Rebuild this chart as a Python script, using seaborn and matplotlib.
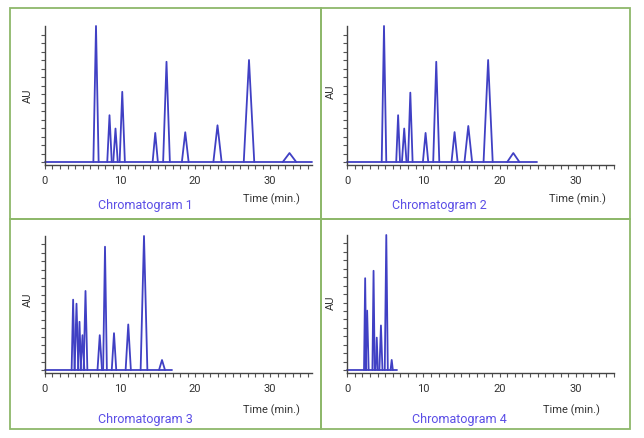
"""Four HPLC chromatograms in a 2x2 grid, boxed panels, no y values."""

import matplotlib

matplotlib.use("Agg")
import matplotlib.pyplot as plt
import numpy as np
import pandas as pd
import seaborn as sns
from matplotlib.patches import Rectangle
from matplotlib.ticker import MultipleLocator

# peak retention time (min), relative height, half base width (min)
c1_times = [6.8, 8.6, 9.4, 10.3, 14.7, 16.2, 18.7, 23.0, 27.2, 32.6]
c1_heights = [1.0, 0.344, 0.246, 0.516, 0.214, 0.737, 0.219, 0.27, 0.75, 0.066]
c1_widths = [0.35, 0.3, 0.3, 0.35, 0.35, 0.45, 0.45, 0.55, 0.7, 0.9]
c1_end = 35.6

c2_times = [4.85, 6.7, 7.5, 8.3, 10.3, 11.7, 14.1, 15.9, 18.5, 21.8]
c2_heights = [1.0, 0.344, 0.246, 0.51, 0.214, 0.737, 0.22, 0.265, 0.75, 0.066]
c2_widths = [0.3, 0.25, 0.3, 0.3, 0.35, 0.4, 0.4, 0.5, 0.6, 0.8]
c2_end = 24.9

c3_times = [3.75, 4.2, 4.6, 5.0, 5.4, 7.3, 8.0, 9.2, 11.1, 13.2, 15.6]
c3_heights = [0.525, 0.495, 0.36, 0.26, 0.59, 0.26, 0.92, 0.275, 0.34, 1.0, 0.075]
c3_widths = [0.2, 0.25, 0.2, 0.25, 0.25, 0.3, 0.25, 0.3, 0.35, 0.45, 0.4]
c3_end = 16.95

c4_times = [2.38, 2.64, 3.48, 3.9, 4.45, 5.15, 5.86]
c4_heights = [0.68, 0.44, 0.735, 0.24, 0.33, 1.0, 0.075]
c4_widths = [0.15, 0.2, 0.15, 0.15, 0.2, 0.2, 0.15]
c4_end = 6.5

titles = ["Chromatogram 1", "Chromatogram 2", "Chromatogram 3", "Chromatogram 4"]
x_major = [0, 10, 20, 30]

LINE = "#4040c4"
TITLE = "#5b4ee6"
INK = "#333333"
BORDER = "#8db86a"

W, H = 644, 438


def trace_frame(times, heights, widths, end):
    rows = [("base", 0.0, 0.0), ("base", end, 0.0)]
    for i, (t, h, w) in enumerate(zip(times, heights, widths)):
        rows += [(i, t - w, 0.0), (i, t, h), (i, t + w, 0.0)]
    return pd.DataFrame(rows, columns=["peak", "time", "signal"])


def fx(px):
    return px / W


def fy(py):
    return 1 - py / H


sns.set_theme(style="white")
plt.rcParams["font.family"] = ["Roboto", "DejaVu Sans"]

fig = plt.figure(figsize=(6.44, 4.38), dpi=100)
fig.patch.set_facecolor("white")

# panel layout in pixels: axes left, right, top, bottom, xmax, text positions
layout = [
    dict(l=45, r=312, t=26, b=165, xmax=35.6, au=(28, 96), ttl=(145, 206), tm=(300, 199)),
    dict(l=347, r=614, t=26, b=165, xmax=35.0, au=(331, 92), ttl=(439, 206), tm=(606, 199)),
    dict(l=45, r=312, t=236, b=373, xmax=35.6, au=(28, 300), ttl=(145, 419), tm=(300, 410)),
    dict(l=347, r=614, t=235, b=373, xmax=35.0, au=(331, 303), ttl=(459, 419), tm=(600, 410)),
]
series = [
    (c1_times, c1_heights, c1_widths, c1_end),
    (c2_times, c2_heights, c2_widths, c2_end),
    (c3_times, c3_heights, c3_widths, c3_end),
    (c4_times, c4_heights, c4_widths, c4_end),
]

for lay, data, title in zip(layout, series, titles):
    ax = fig.add_axes([fx(lay["l"]), fy(lay["b"]), fx(lay["r"] - lay["l"]), (lay["b"] - lay["t"]) / H])
    df = trace_frame(*data)
    sns.lineplot(data=df, x="time", y="signal", units="peak", estimator=None, sort=False,
                 color=LINE, linewidth=1.3, ax=ax)
    for line in ax.lines:
        line.set_clip_on(False)
    ax.set_xlim(0, lay["xmax"])
    ax.set_ylim(-0.022, 1.0)
    ax.set_facecolor("none")
    for side in ["top", "right"]:
        ax.spines[side].set_visible(False)
    for side in ["left", "bottom"]:
        ax.spines[side].set_color("#444444")
        ax.spines[side].set_linewidth(1.0)
    ax.set_xticks(x_major)
    ax.xaxis.set_minor_locator(MultipleLocator(1))
    ax.set_yticks(np.arange(0, 0.95, 1 / 16))
    ax.set_yticklabels([])
    ax.tick_params(axis="x", which="both", direction="out", length=3, width=0.8,
                   color="#555555", labelsize=8, labelcolor=INK, pad=5, bottom=True)
    ax.tick_params(axis="y", which="major", direction="out", length=3, width=0.8,
                   color="#555555", left=True)
    ax.set_xlabel("")
    ax.set_ylabel("")

    fig.text(fx(lay["au"][0]), fy(lay["au"][1]), "AU", rotation=90, ha="center", va="center",
             fontsize=8, color=INK)
    fig.text(fx(lay["ttl"][0]), fy(lay["ttl"][1]), title, ha="center", va="center",
             fontsize=9, color=TITLE)
    fig.text(fx(lay["tm"][0]), fy(lay["tm"][1]), "Time (min.)", ha="right", va="center",
             fontsize=8, color=INK)

# green panel frames
for (x0, y0, x1, y1) in [(10, 8, 321, 219), (321, 8, 630, 219), (10, 219, 321, 429), (321, 219, 630, 429)]:
    fig.patches.append(Rectangle((fx(x0), fy(y1)), fx(x1 - x0), (y1 - y0) / H, transform=fig.transFigure,
                                 fill=False, edgecolor=BORDER, linewidth=1.3))

fig.savefig("out.png", dpi=100)
